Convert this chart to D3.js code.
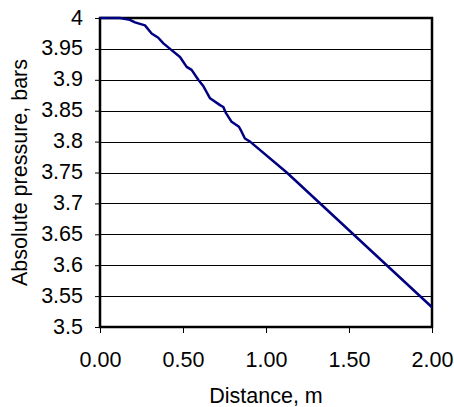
<!DOCTYPE html>
<html>
<head>
<meta charset="utf-8">
<script src="https://cdn.jsdelivr.net/npm/d3@7"></script>
<style>
  body { margin: 0; background: #fff; }
  text { font-family: "Liberation Sans", Arial, sans-serif; fill: #000; }
</style>
</head>
<body>
<svg id="chart" width="454" height="407"></svg>
<script>
// Data
const distance = [0.00, 0.12, 0.18, 0.211, 0.271, 0.311, 0.351, 0.382, 0.422, 0.482, 0.522, 0.552, 0.592,
                  0.622, 0.663, 0.723, 0.743, 0.759, 0.793, 0.837, 0.853, 0.873, 0.904, 1.125, 2.00];
const pressure = [4.000, 4.000, 3.997, 3.993, 3.988, 3.975, 3.968, 3.959, 3.950, 3.937, 3.921, 3.916, 3.900,
                  3.890, 3.870, 3.859, 3.856, 3.846, 3.832, 3.824, 3.816, 3.805, 3.800, 3.750, 3.532];
const xTicks = [0, 0.5, 1, 1.5, 2];
const yTicks = [3.5, 3.55, 3.6, 3.65, 3.7, 3.75, 3.8, 3.85, 3.9, 3.95, 4];

const margin = { left: 100, right: 22, top: 18, bottom: 80 };
const width = 454, height = 407;
const fontSize = 21.5;

const svg = d3.select('#chart');

const x = d3.scaleLinear().domain([0, 2]).range([margin.left, width - margin.right]);
const y = d3.scaleLinear().domain([3.5, 4]).range([height - margin.bottom, margin.top]);

// Gridlines
svg.append('g')
    .selectAll('line')
    .data(yTicks)
    .join('line')
    .attr('x1', x(0)).attr('x2', x(2))
    .attr('y1', d => Math.round(y(d)) + 0.5).attr('y2', d => Math.round(y(d)) + 0.5)
    .attr('stroke', '#000')
    .attr('stroke-width', 1);

// Y axis
const yAxis = svg.append('g')
    .attr('transform', `translate(${x(0)},0)`)
    .call(d3.axisLeft(y).tickValues(yTicks).tickFormat(d3.format('')).tickSize(5).tickPadding(12));
yAxis.select('.domain').remove();
yAxis.selectAll('text')
    .attr('font-size', fontSize)
    .attr('font-family', '"Liberation Sans", Arial, sans-serif')
    .attr('dy', '0.28em');
yAxis.selectAll('line').attr('stroke', '#000');

// X axis
const xAxis = svg.append('g')
    .attr('transform', `translate(0,${y(3.5)})`)
    .call(d3.axisBottom(x).tickValues(xTicks).tickFormat(d3.format('.2f')).tickSize(6).tickPadding(19));
xAxis.select('.domain').remove();
xAxis.selectAll('text')
    .attr('font-size', fontSize)
    .attr('font-family', '"Liberation Sans", Arial, sans-serif');
xAxis.selectAll('line').attr('stroke', '#000');

// Plot frame
svg.append('rect')
    .attr('x', x(0)).attr('y', y(4))
    .attr('width', x(2) - x(0)).attr('height', y(3.5) - y(4))
    .attr('fill', 'none')
    .attr('stroke', '#000')
    .attr('stroke-width', 2.5);

// Pressure curve
const line = d3.line()
    .x((d, i) => x(distance[i]))
    .y(d => y(d));

svg.append('path')
    .datum(pressure)
    .attr('d', line)
    .attr('fill', 'none')
    .attr('stroke', '#000080')
    .attr('stroke-width', 2.5)
    .attr('stroke-linejoin', 'round');

// Axis titles
svg.append('text')
    .attr('x', (x(0) + x(2)) / 2)
    .attr('y', 403)
    .attr('text-anchor', 'middle')
    .attr('font-size', fontSize)
    .text('Distance, m');

svg.append('text')
    .attr('transform', `translate(27,${(y(3.5) + y(4)) / 2}) rotate(-90)`)
    .attr('text-anchor', 'middle')
    .attr('font-size', fontSize)
    .text('Absolute pressure, bars');
</script>
</body>
</html>
